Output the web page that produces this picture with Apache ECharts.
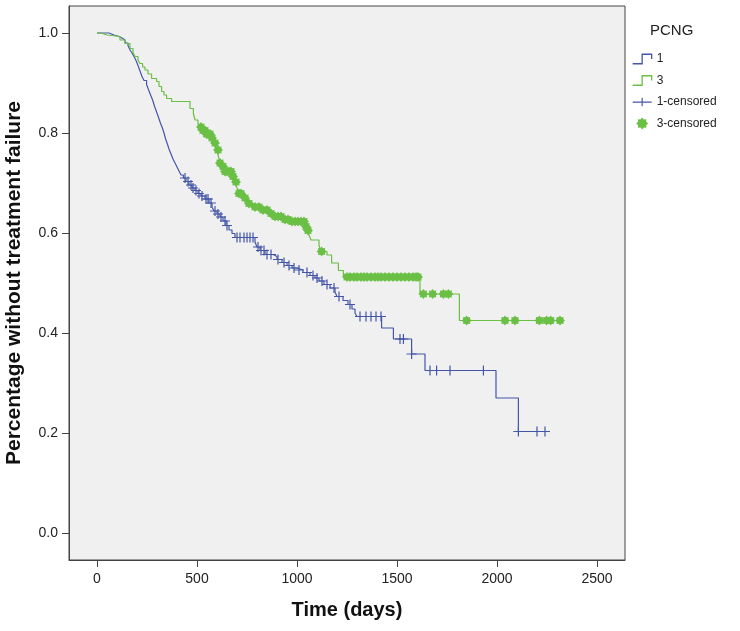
<!DOCTYPE html>
<html><head><meta charset="utf-8">
<script src="https://cdn.jsdelivr.net/npm/echarts@6/dist/echarts.min.js"></script>
<style>html,body{margin:0;padding:0;background:#fff}#c{width:740px;height:631px}</style>
</head><body><div id="c"></div>
<script>
// Tick labels
const xTicks = [0, 500, 1000, 1500, 2000, 2500];
const yTicks = [0, 0.2, 0.4, 0.6, 0.8, 1.0];

// PCNG = 1 : event times (days) and survival after each event
const grp1Times = [0,60,85,110,125,140,155,165,175,185,195,205,215,225,235,248,258,268,278,288,298,307,317,327,335,343,352,360,370,380,390,400,410,420,432,445,460,475,490,505,520,540,560,575,585,600,615,630,645,660,675,690,790,800,815,840,880,900,925,950,975,1000,1030,1065,1090,1110,1135,1165,1190,1200,1230,1255,1275,1290,1300,1423,1482,1573,1640,1995,2107];
const grp1Surv = [1.0,0.996,0.993,0.99,0.986,0.98,0.975,0.966,0.96,0.953,0.945,0.935,0.924,0.913,0.905,0.897,0.886,0.876,0.866,0.853,0.842,0.832,0.82,0.81,0.8,0.788,0.778,0.768,0.758,0.748,0.74,0.732,0.724,0.716,0.71,0.703,0.696,0.69,0.685,0.679,0.674,0.668,0.66,0.652,0.644,0.638,0.632,0.624,0.615,0.606,0.599,0.591,0.582,0.572,0.565,0.557,0.553,0.547,0.541,0.535,0.53,0.526,0.521,0.515,0.51,0.504,0.497,0.49,0.482,0.473,0.465,0.457,0.448,0.44,0.433,0.41,0.388,0.358,0.325,0.27,0.203];
const grp1Censored = [440,455,470,480,495,510,525,545,555,570,590,605,620,640,650,700,715,735,750,765,780,805,820,835,850,870,905,935,960,985,1010,1050,1080,1100,1125,1150,1185,1210,1265,1315,1345,1370,1395,1420,1515,1532,1573,1665,1698,1765,1932,2107,2200,2240];

// PCNG = 3
const grp3Times = [0,20,50,115,140,165,180,190,205,215,228,240,255,273,298,310,323,335,348,373,465,482,490,505,515,525,545,570,585,600,607,615,625,640,673,690,700,707,730,748,780,815,860,882,930,965,1040,1050,1060,1070,1110,1120,1150,1173,1207,1232,1615,1812];
const grp3Surv = [1.0,0.996,0.993,0.986,0.979,0.969,0.961,0.953,0.946,0.939,0.932,0.926,0.918,0.909,0.903,0.893,0.883,0.876,0.869,0.863,0.849,0.839,0.826,0.819,0.812,0.805,0.798,0.79,0.78,0.766,0.753,0.74,0.733,0.723,0.713,0.702,0.69,0.679,0.67,0.659,0.652,0.646,0.639,0.633,0.627,0.623,0.613,0.605,0.596,0.586,0.575,0.563,0.556,0.54,0.525,0.512,0.478,0.425];
const grp3Censored = [520,530,540,548,556,565,575,590,605,615,630,640,650,660,670,680,695,710,720,740,760,790,810,830,850,870,890,905,920,940,955,975,990,1005,1020,1035,1045,1055,1123,1250,1265,1285,1300,1320,1335,1350,1370,1390,1405,1420,1440,1460,1480,1500,1520,1540,1560,1580,1595,1605,1632,1678,1732,1757,1848,2040,2090,2212,2248,2268,2315];

const BLUE = '#4456a8', GREEN = '#6abf45';
const FONT = 'Liberation Sans, Arial, sans-serif';
const PLUS = 'path://M4.4,0H5.6V10H4.4ZM0,4.4H10V5.6H0Z';
const STAR = 'path://M10,5L8.33,6.38L8.54,8.54L6.38,8.33L5,10L3.62,8.33L1.46,8.54L1.67,6.38L0,5L1.67,3.62L1.46,1.46L3.62,1.67L5,0L6.38,1.67L8.54,1.46L8.33,3.62Z';
const STEP = 'path://M0,11L10,11L10,1L20,1L20,6';

function levelAt(times, surv, t) {
  let v = surv[0];
  for (let i = 0; i < times.length; i++) { if (times[i] <= t) v = surv[i]; }
  return v;
}
function stepData(times, surv, cens) {
  const d = times.map((t, i) => [t, surv[i]]);
  const end = Math.max(...cens);
  d.push([end, levelAt(times, surv, end)]);
  return d;
}
function censData(times, surv, cens) {
  return cens.map(t => [t, levelAt(times, surv, t)]);
}

const chart = echarts.init(document.getElementById('c'), null, {renderer: 'canvas'});
chart.setOption({
  animation: false,
  backgroundColor: '#fff',
  textStyle: {fontFamily: FONT},
  title: {text: 'PCNG', left: 645, top: 18, textStyle: {fontSize: 15, fontWeight: 'normal', color: '#222', fontFamily: FONT}},
  legend: {
    orient: 'vertical', left: 627, top: 48, itemWidth: 19, itemHeight: 12, itemGap: 9.5,
    selectedMode: false,
    textStyle: {fontSize: 12, color: '#222', fontFamily: FONT},
    data: [
      {name: '1', icon: STEP, itemStyle: {color: 'rgba(0,0,0,0)', borderColor: BLUE, borderWidth: 1.3}},
      {name: '3', icon: STEP, itemStyle: {color: 'rgba(0,0,0,0)', borderColor: GREEN, borderWidth: 1.3}},
      {name: '1-censored', icon: 'path://M0,4H20V5.2H0ZM9.4,0H10.6V9H9.4Z', itemStyle: {color: BLUE, borderWidth: 0}},
      {name: '3-censored', icon: STAR, itemStyle: {color: GREEN, borderWidth: 0}}
    ]
  },
  grid: {left: 69, right: 115, top: 6, bottom: 71, show: true, backgroundColor: '#f0f0f0', borderColor: '#444', borderWidth: 1,
         containLabel: false, outerBoundsMode: 'none'},
  xAxis: {
    type: 'value', min: -140, max: 2640,
    name: 'Time (days)', nameLocation: 'middle', nameGap: 40,
    nameTextStyle: {fontSize: 20, fontWeight: 'bold', color: '#111', fontFamily: FONT},
    axisLine: {show: true, onZero: false, lineStyle: {color: '#444', width: 1}},
    axisTick: {show: true, length: 7, lineStyle: {color: '#444'}, customValues: xTicks},
    axisLabel: {customValues: xTicks, fontSize: 14, color: '#222', margin: 12, fontFamily: FONT, formatter: v => String(v)},
    splitLine: {show: false}
  },
  yAxis: {
    type: 'value', min: -0.054, max: 1.054,
    name: 'Percentage without treatment failure', nameLocation: 'middle', nameGap: 44,
    nameTextStyle: {fontSize: 21, fontWeight: 'bold', color: '#111', fontFamily: FONT},
    axisLine: {show: true, onZero: false, lineStyle: {color: '#444', width: 1}},
    axisTick: {show: true, length: 7, lineStyle: {color: '#444'}, customValues: yTicks},
    axisLabel: {customValues: yTicks, fontSize: 14, color: '#222', margin: 11, fontFamily: FONT, formatter: v => v.toFixed(1)},
    splitLine: {show: false}
  },
  series: [
    {name: '1', type: 'line', step: 'end', showSymbol: false, symbol: 'none', data: stepData(grp1Times, grp1Surv, grp1Censored),
     lineStyle: {color: BLUE, width: 1.2}, itemStyle: {color: BLUE}},
    {name: '3', type: 'line', step: 'end', showSymbol: false, symbol: 'none', data: stepData(grp3Times, grp3Surv, grp3Censored),
     lineStyle: {color: GREEN, width: 1.2}, itemStyle: {color: GREEN}},
    {name: '1-censored', type: 'scatter', symbol: PLUS, symbolSize: [10, 10], data: censData(grp1Times, grp1Surv, grp1Censored),
     itemStyle: {color: BLUE, opacity: 1}},
    {name: '3-censored', type: 'scatter', symbol: STAR, symbolSize: [10, 10], data: censData(grp3Times, grp3Surv, grp3Censored),
     itemStyle: {color: GREEN, opacity: 1}}
  ]
});
</script>
</body></html>
